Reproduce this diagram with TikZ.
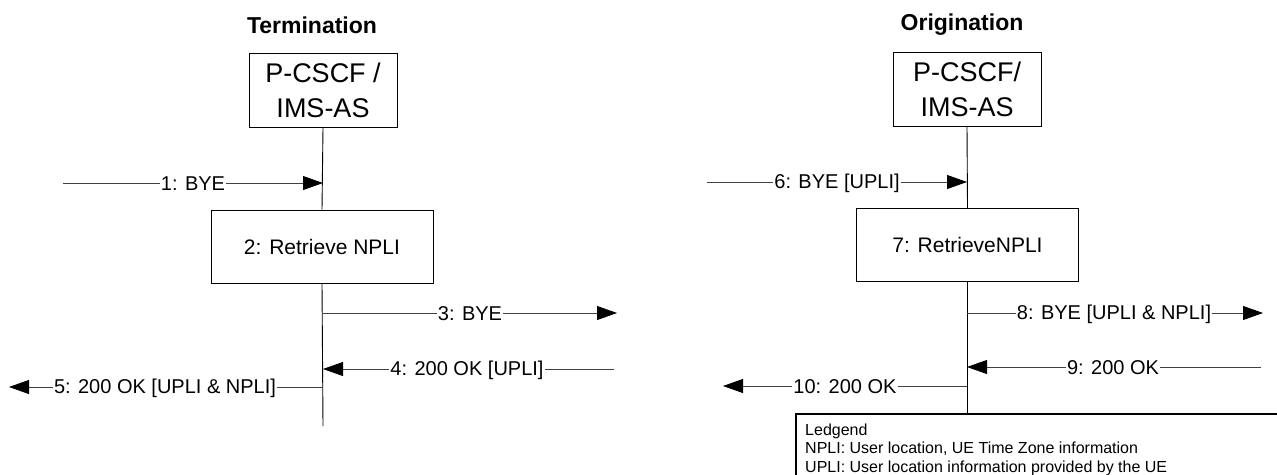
\documentclass[tikz,border=0pt]{standalone}
\usepackage{fontspec}
\setmainfont{Liberation Sans}
\usetikzlibrary{arrows.meta}
\begin{document}
\begin{tikzpicture}[x=1pt,y=-1pt,
  ent/.style={draw=black, line width=0.9pt, minimum width=148pt, minimum height=74pt, align=center, font=\fontsize{27}{35}\selectfont, inner sep=0pt},
  proc/.style={draw=black, line width=0.9pt, minimum width=222pt, minimum height=73pt, font=\fontsize{21}{25}\selectfont, inner sep=0pt},
  ttl/.style={font=\bfseries\fontsize{23}{27}\selectfont},
  msg/.style={line width=0.8pt, draw=black!75, -{Triangle[length=20pt,width=14pt,fill=black,color=black]}},
  lbl/.style={fill=white, inner sep=1pt, font=\fontsize{20}{24}\selectfont},
  life/.style={line width=0.9pt},
  lgd/.style={anchor=base west, inner sep=0pt, font=\fontsize{16}{18.5}\selectfont}
]
\useasboundingbox (0,0) rectangle (1277,474);
\clip (0,0) rectangle (1277,474);

% ---------------- Termination ----------------
\node[ttl] (t1) at (312,25) {Termination};
\node[ent] (pl) at (323,90) {P-CSCF /\\IMS-AS};
\node[proc] (rl) at (322,246.5) {2: Retrieve NPLI};
\coordinate (endL) at (323,426);
\draw[life] (pl.south) -- (rl.north);
\draw[life] (rl.south) -- (endL);

\coordinate (a1s) at (63,183);  \coordinate (a1e) at (323,183);
\coordinate (a3s) at (323,313); \coordinate (a3e) at (617,313);
\coordinate (a4s) at (614,369); \coordinate (a4e) at (323,369);
\coordinate (a5s) at (323,387); \coordinate (a5e) at (9,387);
\draw[msg] (a1s) -- (a1e);
\draw[msg] (a3s) -- (a3e);
\draw[msg] (a4s) -- (a4e);
\draw[msg] (a5s) -- (a5e);
\node[lbl] (m1) at (193,184) {1: BYE};
\node[lbl] (m3) at (470,314) {3: BYE};
\node[lbl] (m4) at (467,370) {4: 200 OK [UPLI]};
\node[lbl] (m5) at (165,388) {5: 200 OK [UPLI \& NPLI]};

% ---------------- Origination ----------------
\node[ttl] (t2) at (962,25) {Origination};
\node[ent] (pr) at (967,89) {P-CSCF/\\IMS-AS};
\node[proc] (rr) at (967.5,245) {7: RetrieveNPLI};
\draw[life] (pr.south) -- (rr.north);

% legend
\node[draw=black, line width=1.6pt, minimum width=520pt, minimum height=90pt, anchor=north west, inner sep=0pt] (lg) at (795,413) {};
\draw[life] (rr.south) -- (rr.south |- lg.north);
\node[lgd] (l1) at (805,435) {Ledgend};
\node[lgd] (l2) at (805,453.5) {NPLI: User location, UE Time Zone information};
\node[lgd] (l3) at (805,472) {UPLI: User location information provided by the UE};

\coordinate (a6s) at (707,182);  \coordinate (a6e) at (967,182);
\coordinate (a8s) at (967,313);  \coordinate (a8e) at (1263,313);
\coordinate (a9s) at (1261,367); \coordinate (a9e) at (967,367);
\coordinate (a10s) at (967,386); \coordinate (a10e) at (723,386);
\draw[msg] (a6s) -- (a6e);
\draw[msg] (a8s) -- (a8e);
\draw[msg] (a9s) -- (a9e);
\draw[msg] (a10s) -- (a10e);
\node[lbl] (m6) at (837,183) {6: BYE [UPLI]};
\node[lbl] (m8) at (1114,314) {8: BYE [UPLI \& NPLI]};
\node[lbl] (m9) at (1113,368) {9: 200 OK};
\node[lbl] (m10) at (845,387) {10: 200 OK};
\end{tikzpicture}
\end{document}
